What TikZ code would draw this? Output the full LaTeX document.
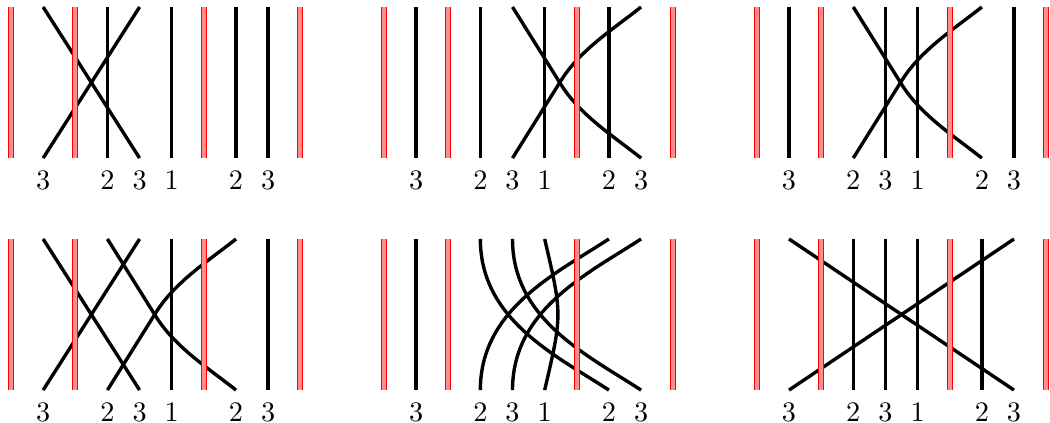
\documentclass[tikz,border=0pt]{standalone}
\usepackage{tikz}
\usetikzlibrary{positioning}

\begin{document}
\begin{tikzpicture}[
    x=0.4cm, y=0.4cm,
    strand/.style={very thick, black},
    wall/.style={draw=red, double=red!45, line width=0.4pt, double distance=1.3pt},
    lbl/.style={below, inner sep=0.5pt, yshift=-3.8pt}
]
\useasboundingbox (-0.342,0.218) rectangle (32.32,-12.94);

%% top row, left
\begin{scope}[shift={(0,0)}]
  \draw[strand] (1,-4.7) -- (4,0);
  \draw[strand] (1,0) -- (4,-4.7);
  \foreach \x in {3,5,7,8} \draw[strand] (\x,0) -- (\x,-4.7);
  \foreach \x in {0,2,6,9} \draw[wall] (\x,0) -- (\x,-4.7);
  \foreach \x/\t in {1/3,3/2,4/3,5/1,7/2,8/3} \node[lbl] (a\x) at (\x,-4.7) {\t};
\end{scope}

%% top row, middle
\begin{scope}[shift={(11.6,0)}]
  \foreach \x in {1,3,5,7} \draw[strand] (\x,0) -- (\x,-4.7);
  \draw[strand] (4,-4.7) -- (5.5,-2.3) .. controls (6.1,-1.34) and (7.1,-0.71) .. (8,0);
  \draw[strand] (4,0) -- (5.5,-2.4) .. controls (6.1,-3.36) and (7.1,-3.99) .. (8,-4.7);
  \foreach \x in {0,2,6,9} \draw[wall] (\x,0) -- (\x,-4.7);
  \foreach \x/\t in {1/3,3/2,4/3,5/1,7/2,8/3} \node[lbl] (b\x) at (\x,-4.7) {\t};
\end{scope}

%% top row, right
\begin{scope}[shift={(23.2,0)}]
  \foreach \x in {1,4,5,8} \draw[strand] (\x,0) -- (\x,-4.7);
  \draw[strand] (3,-4.7) -- (4.5,-2.3) .. controls (5.1,-1.34) and (6.1,-0.71) .. (7,0);
  \draw[strand] (3,0) -- (4.5,-2.4) .. controls (5.1,-3.36) and (6.1,-3.99) .. (7,-4.7);
  \foreach \x in {0,2,6,9} \draw[wall] (\x,0) -- (\x,-4.7);
  \foreach \x/\t in {1/3,3/2,4/3,5/1,7/2,8/3} \node[lbl] (c\x) at (\x,-4.7) {\t};
\end{scope}

%% bottom row, left
\begin{scope}[shift={(0,-7.216)}]
  \draw[strand] (1,-4.7) -- (4,0);
  \draw[strand] (1,0) -- (4,-4.7);
  \draw[strand] (3,-4.7) -- (4.5,-2.3) .. controls (5.1,-1.34) and (6.1,-0.71) .. (7,0);
  \draw[strand] (3,0) -- (4.5,-2.4) .. controls (5.1,-3.36) and (6.1,-3.99) .. (7,-4.7);
  \foreach \x in {5,8} \draw[strand] (\x,0) -- (\x,-4.7);
  \foreach \x in {0,2,6,9} \draw[wall] (\x,0) -- (\x,-4.7);
  \foreach \x/\t in {1/3,3/2,4/3,5/1,7/2,8/3} \node[lbl] (d\x) at (\x,-4.7) {\t};
\end{scope}

%% bottom row, middle
\begin{scope}[shift={(11.6,-7.216)}]
  \draw[strand] (1,0) -- (1,-4.7);
  \draw[strand] (3,-4.7) .. controls (3,-2.2) and (5.32,-1.09) .. (7,0);
  \draw[strand] (3,0) .. controls (3,-2.5) and (5.32,-3.61) .. (7,-4.7);
  \draw[strand] (4,-4.7) .. controls (4,-2.2) and (6.32,-1.09) .. (8,0);
  \draw[strand] (4,0) .. controls (4,-2.5) and (6.32,-3.61) .. (8,-4.7);
  \draw[strand] (5,-4.7) .. controls (5.55,-2.35) .. (5,0);
  \foreach \x in {0,2,6,9} \draw[wall] (\x,0) -- (\x,-4.7);
  \foreach \x/\t in {1/3,3/2,4/3,5/1,7/2,8/3} \node[lbl] (e\x) at (\x,-4.7) {\t};
\end{scope}

%% bottom row, right
\begin{scope}[shift={(23.2,-7.216)}]
  \foreach \x in {3,4,5,7} \draw[strand] (\x,0) -- (\x,-4.7);
  \draw[strand] (1,0) -- (8,-4.7);
  \draw[strand] (1,-4.7) -- (8,0);
  \foreach \x in {0,2,6,9} \draw[wall] (\x,0) -- (\x,-4.7);
  \foreach \x/\t in {1/3,3/2,4/3,5/1,7/2,8/3} \node[lbl] (f\x) at (\x,-4.7) {\t};
\end{scope}

\end{tikzpicture}
\end{document}
